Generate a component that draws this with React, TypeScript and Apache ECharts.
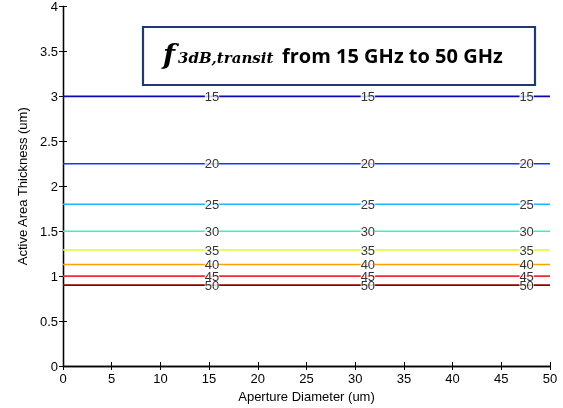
import React, { useEffect, useRef } from "react";
import * as echarts from "echarts";

const levels = [15, 20, 25, 30, 35, 40, 45, 50];
const thickness = [3.0, 2.25, 1.8, 1.5, 1.29, 1.13, 1.0, 0.9];
const lineColors = ["#0a0ab4", "#0a3cff", "#1eb4ff", "#3cf0c0", "#d2ff32", "#ffa000", "#ff2828", "#8c0000"];
const labelX = [15.3, 31.3, 47.6];
const xTicks = [0, 50, 5];
const yTicks = [0, 4, 0.5];

export default function App() {
  const ref = useRef<HTMLDivElement>(null);
  useEffect(() => {
    const chart = echarts.init(ref.current!, null, { renderer: "svg" });
    const font = "Liberation Sans, Arial, sans-serif";
    const series: any[] = [];
    levels.forEach((lv, i) => {
      series.push({
        type: "line",
        data: [[xTicks[0], thickness[i]], [xTicks[1], thickness[i]]],
        showSymbol: false,
        symbol: "none",
        lineStyle: { color: lineColors[i], width: 1.6 },
        z: 2,
      });
    });
    levels.forEach((lv, i) => {
      series.push({
        type: "scatter",
        data: labelX.map((x) => [x, thickness[i]]),
        symbolSize: 1,
        itemStyle: { color: "rgba(0,0,0,0)" },
        label: {
          show: true,
          position: "inside",
          formatter: String(lv),
          color: "#000",
          fontFamily: font,
          fontSize: 13,
          lineHeight: 3,
          backgroundColor: "#fff",
          padding: [0, 0],
        },
        z: 5,
      });
    });
    const axisCommon = {
      min: 0,
      axisLine: { show: true, lineStyle: { color: "#000", width: 1.3 } },
      axisTick: { show: true, inside: true, length: 4, lineStyle: { color: "#000" } },
      splitLine: { show: false },
    };
    chart.setOption({
      animation: false,
      grid: { left: 63, right: 13, top: 4, bottom: 42 },
      xAxis: [
        {
          ...axisCommon,
          type: "value",
          max: xTicks[1],
          interval: xTicks[2],
          name: "Aperture Diameter (um)",
          nameLocation: "middle",
          nameGap: 24,
          nameTextStyle: { color: "#000", fontFamily: font, fontSize: 13 },
          axisLabel: { color: "#000", fontFamily: font, fontSize: 13, margin: 6 },
        },
        {
          ...axisCommon,
          type: "value",
          position: "top",
          max: xTicks[1],
          interval: xTicks[2],
          axisLabel: { show: false },
        },
      ],
      yAxis: [
        {
          ...axisCommon,
          type: "value",
          max: yTicks[1],
          interval: yTicks[2],
          name: "Active Area Thickness (um)",
          nameLocation: "middle",
          nameGap: 34,
          nameTextStyle: { color: "#000", fontFamily: font, fontSize: 13 },
          axisLabel: { color: "#000", fontFamily: font, fontSize: 13, margin: 5 },
        },
        {
          ...axisCommon,
          type: "value",
          position: "right",
          max: yTicks[1],
          interval: yTicks[2],
          axisLabel: { show: false },
        },
      ],
      series,
      graphic: [
        {
          type: "rect",
          shape: { x: 143, y: 27, width: 392, height: 58 },
          style: { fill: "#fff", stroke: "#1f3a70", lineWidth: 2.2 },
          z: 100,
        },
        {
          type: "text",
          x: 163,
          y: 54,
          style: {
            text: "f",
            font: "italic bold 28px 'DejaVu Serif', 'Liberation Serif', serif",
            fill: "#000",
            verticalAlign: "middle",
          },
          z: 101,
        },
        {
          type: "text",
          x: 178,
          y: 58,
          style: {
            text: "3dB,transit",
            font: "italic bold 15px 'DejaVu Serif', 'Liberation Serif', serif",
            fill: "#000",
            verticalAlign: "middle",
          },
          z: 101,
        },
        {
          type: "text",
          x: 282,
          y: 55,
          style: {
            text: "from 15 GHz to 50 GHz",
            font: "bold 20px 'Open Sans', 'Liberation Sans', sans-serif",
            fill: "#000",
            verticalAlign: "middle",
          },
          z: 101,
        },
      ],
    });
    return () => chart.dispose();
  }, []);
  return <div ref={ref} style={{ position: "fixed", left: 0, top: 0, width: 563, height: 408 }} />;
}
